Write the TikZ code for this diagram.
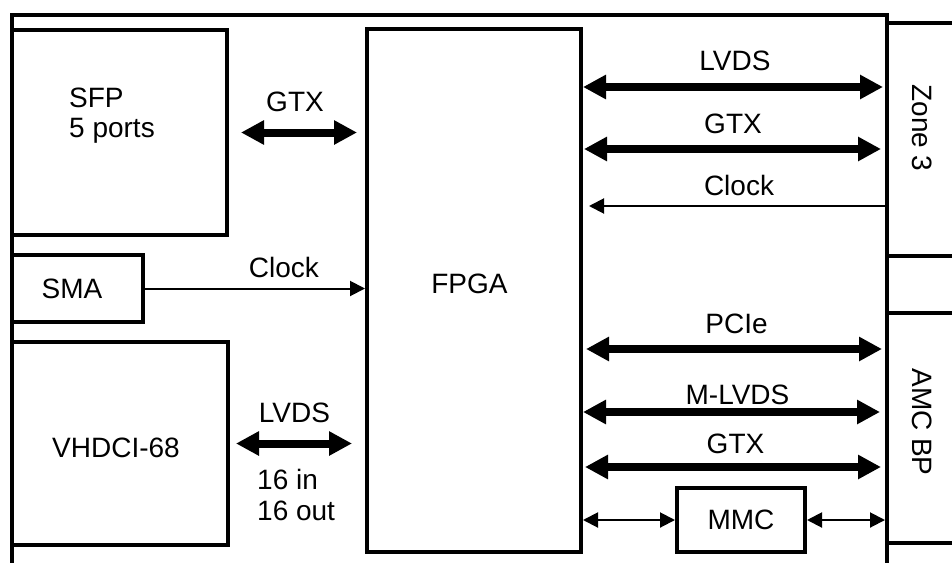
\documentclass[tikz,border=0pt]{standalone}
\usepackage{fontspec}
\setmainfont{Liberation Sans}
\usetikzlibrary{arrows.meta}
\begin{document}
\begin{tikzpicture}[x=1pt,y=-1pt,
  box/.style={draw,line width=4pt,inner sep=0pt},
  lbl/.style={inner sep=0pt,font=\fontsize{28}{30}\selectfont},
  bigarrow/.style={line width=8pt,>={Triangle[length=23pt,width=23pt]},<->},
  smallarrow/.style={line width=2pt,>={Triangle[length=15pt,width=15pt]}},
  frame/.style={line width=4pt}]
\useasboundingbox (0,0) rectangle (952,562);
\fill[white] (0,0) rectangle (952,562);
\clip (0,0) rectangle (952,562);

% board outline
\coordinate (bl) at (12,575);
\coordinate (br) at (887,575);
\coordinate (tr) at (887,15);
\draw[frame] (bl) |- (tr) -- (br);

% blocks
\node[box,minimum width=215,minimum height=205] (sfp) at (119.5,132.5) {};
\node[box,minimum width=131,minimum height=67] (sma) at (77.5,288.5) {};
\node[box,minimum width=216,minimum height=203] (vhdci) at (120,443.5) {};
\node[box,minimum width=214,minimum height=523] (fpga) at (474,290.5) {};
\node[box,minimum width=128,minimum height=64,font=\fontsize{28}{30}\selectfont] (mmc) at (741,520) {MMC};
\node[box,minimum width=93,minimum height=233] (zone3) at (933.5,139.5) {};
\node[box,minimum width=93,minimum height=230] (amc) at (933.5,428) {};

% block texts
\node[lbl,anchor=north west,align=left] (sfptxt) at (69,88) {SFP\\5 ports};
\node[lbl,anchor=base] (smatxt) at (72,298) {SMA};
\node[lbl,anchor=base] (vhdcitxt) at (116,457) {VHDCI-68};
\node[lbl,anchor=base] (fpgatxt) at (469.5,293) {FPGA};
\node[lbl,rotate=-90] (zone3txt) at (922,128) {Zone 3};
\node[lbl,rotate=-90] (amctxt) at (922,422) {AMC BP};

% left side connections
\draw[bigarrow,shorten <=12pt,shorten >=8pt] (sfp.east) -- (sfp.east -| fpga.west);
\node[lbl,anchor=base] (gtxl) at (295,111) {GTX};
\draw[smallarrow,->] (sma.east) -- (sma.east -| fpga.west);
\node[lbl,anchor=base] (clkl) at (284,277) {Clock};
\draw[bigarrow,shorten <=6pt,shorten >=13pt] (vhdci.east) -- (vhdci.east -| fpga.west);
\node[lbl,anchor=base] (lvdsl) at (294.5,422) {LVDS};
\node[lbl,anchor=north west,align=left,font=\fontsize{28}{31}\selectfont] (inout) at (257,469) {16 in\\16 out};

% right side connections
\coordinate (y1) at (0,87);
\coordinate (y2) at (0,149);
\coordinate (y3) at (0,206);
\coordinate (y4) at (0,349);
\coordinate (y5) at (0,412);
\coordinate (y6) at (0,467);
\draw[bigarrow,shorten >=4pt] (fpga.east |- y1) -- (br |- y1);
\node[lbl,anchor=base] (lvdsr) at (735,70) {LVDS};
\draw[bigarrow,shorten <=1pt,shorten >=6pt] (fpga.east |- y2) -- (br |- y2);
\node[lbl,anchor=base] (gtxr1) at (733,133) {GTX};
\draw[smallarrow,->,shorten >=6pt] (br |- y3) -- (fpga.east |- y3);
\node[lbl,anchor=base] (clkr) at (739,195) {Clock};
\draw[bigarrow,shorten <=3pt,shorten >=5pt] (fpga.east |- y4) -- (br |- y4);
\node[lbl,anchor=base] (pcie) at (736.5,333) {PCIe};
\draw[bigarrow,shorten >=7pt] (fpga.east |- y5) -- (br |- y5);
\node[lbl,anchor=base] (mlvds) at (737.5,404) {M-LVDS};
\draw[bigarrow,shorten <=2pt,shorten >=6pt] (fpga.east |- y6) -- (br |- y6);
\node[lbl,anchor=base] (gtxr2) at (735.5,453) {GTX};
\draw[smallarrow,<->] (fpga.east |- mmc.west) -- (mmc.west);
\draw[smallarrow,<->,shorten >=2pt] (mmc.east) -- (br |- mmc.east);
\end{tikzpicture}
\end{document}
